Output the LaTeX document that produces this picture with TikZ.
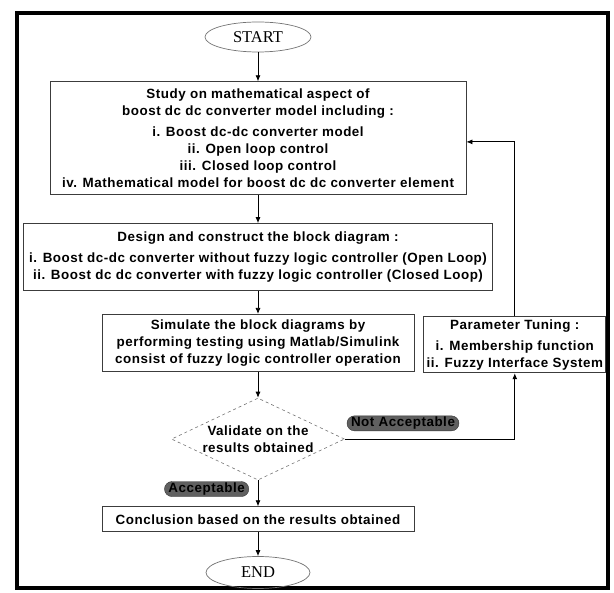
\documentclass[tikz,border=0pt]{standalone}
\usepackage{fontspec}
\setmainfont{Liberation Sans}[LetterSpace=4]
\newfontfamily\termfont{Liberation Serif}
\usetikzlibrary{arrows.meta,positioning,shapes.geometric}
\definecolor{edgegray}{HTML}{3C3C3C}
\definecolor{pillgray}{HTML}{606060}
\newcommand{\flowfont}{\fontsize{13.4}{17}\selectfont\bfseries}

\begin{document}
\begin{tikzpicture}[
          stepbox/.style={
            draw=edgegray,
            line width=0.8pt,
            fill=white,
            align=center,
            inner sep=0pt,
            font=\flowfont
          },
          term/.style={
            ellipse,
            draw=black!55,
            line width=0.7pt,
            inner sep=0pt,
            font=\termfont\fontsize{16.5}{18}\selectfont
          },
          decision/.style={
            diamond,
            draw=black!55,
            dashed,
            line width=0.6pt,
            aspect=2.1,
            inner sep=0pt,
            minimum width=173pt,
            minimum height=82pt,
            align=center,
            font=\flowfont
          },
          tag/.style={
            draw=black!80,
            fill=pillgray,
            text=black,
            rounded corners=7.5pt,
            inner xsep=4pt,
            inner ysep=0pt,
            minimum height=15pt,
            font=\flowfont
          },
          arr/.style={-{Latex[length=6pt,width=5pt]},line width=0.8pt,draw=black}
        ]
        \useasboundingbox (0,0) rectangle (614pt,-593pt);
        \draw[line width=4pt] (17pt,-13pt) rectangle (608pt,-588pt);
        \node[term,minimum width=106pt,minimum height=30pt] (start) at (258pt,-37pt) {START};
        \node[stepbox,minimum width=416pt,minimum height=113pt,below=29pt of start] (study)
          {Study on mathematical aspect of\\
           boost dc dc converter model including :\\[4pt]
           i. Boost dc-dc converter model\\
           ii. Open loop control\\
           iii. Closed loop control\\
           iv. Mathematical model for boost dc dc converter element};
        \node[stepbox,minimum width=469pt,minimum height=67pt,below=28pt of study] (design)
          {Design and construct the block diagram :\\[4pt]
           i. Boost dc-dc converter without fuzzy logic controller (Open Loop)\\
           ii. Boost dc dc converter with fuzzy logic controller (Closed Loop)};
        \node[stepbox,minimum width=312pt,minimum height=57pt,below=23pt of design] (simulate)
          {Simulate the block diagrams by\\
           performing testing using Matlab/Simulink\\
           consist of fuzzy logic controller operation};
        \node[stepbox,minimum width=182pt,minimum height=56pt,right=9pt of simulate,yshift=-2pt] (tuning)
          {Parameter Tuning :\\[4pt]
           i. Membership function\\
           ii. Fuzzy Interface System};
        \node[decision,below=26pt of simulate] (validate) {Validate on the\\results obtained};
        \node[stepbox,minimum width=312pt,minimum height=25pt,below=26pt of validate] (concl)
          {Conclusion based on the results obtained};
        \node[term,minimum width=104pt,minimum height=32pt,below=24pt of concl] (stop) {END};
        \node[tag,above right=8pt and 2pt of validate.east] (notok) {Not Acceptable};
        \node[tag,below left=1pt and 9pt of validate.south] (ok) {Acceptable};
        \draw[arr] (start) -- (study);
        \draw[arr] (study) -- (design);
        \draw[arr] (design) -- (simulate);
        \draw[arr] (simulate) -- (validate);
        \draw[arr] (validate) -- (concl);
        \draw[arr] (concl) -- (stop);
        \draw[arr] (validate.east) -| (tuning.south);
        \draw[arr] (tuning.north) |- (study.-1);
      \end{tikzpicture}
\end{document}
